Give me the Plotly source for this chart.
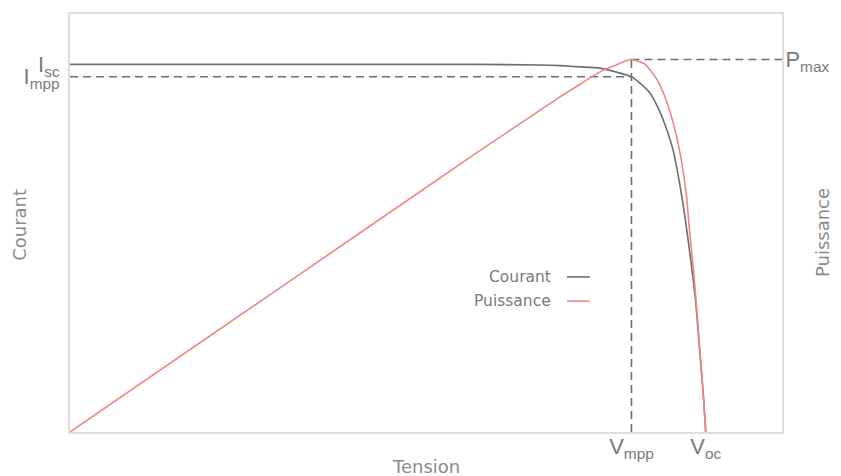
import plotly.graph_objects as go

# Courbe I-V (tension en V, courant en A)
TENSION_I = [0.000, 0.200, 0.400, 0.462, 0.482, 0.501, 0.521, 0.536, 0.552, 0.560,
             0.570, 0.578, 0.585, 0.593, 0.602, 0.609, 0.615, 0.619, 0.623, 0.625]
COURANT = [2.99, 2.99, 2.99, 2.985, 2.98, 2.97, 2.96, 2.93, 2.89, 2.84,
           2.76, 2.64, 2.50, 2.29, 1.89, 1.48, 1.07, 0.67, 0.26, 0.00]

# Courbe P-V (tension en V, puissance en W)
TENSION_P = [0.000, 0.200, 0.400, 0.482, 0.501, 0.521, 0.536, 0.546, 0.552, 0.565,
             0.575, 0.583, 0.590, 0.596, 0.601, 0.606, 0.609, 0.613, 0.617, 0.620,
             0.623, 0.625]
PUISSANCE = [0.000, 0.598, 1.196, 1.436, 1.488, 1.542, 1.570, 1.589, 1.595, 1.576,
             1.524, 1.456, 1.370, 1.272, 1.165, 1.015, 0.865, 0.694, 0.480, 0.308,
             0.137, 0.000]

# Points remarquables
ISC = 2.99
IMPP = 2.89
VMPP = 0.552
VOC = 0.625
PMAX = 1.595

X_MAX = 0.70
I_MAX = 3.4
P_MAX_AXIS = 1.79

GRIS = '#6e6e6e'
ROUGE = '#f08585'
TEXTE = '#7a7a7a'
DASH = '8px,5px'

fig = go.Figure()

# Lignes pointillées de repère
fig.add_trace(go.Scatter(x=[0, VMPP], y=[IMPP, IMPP], mode='lines',
                         line=dict(color=GRIS, width=1.6, dash=DASH), hoverinfo='skip'))
fig.add_trace(go.Scatter(x=[VMPP, VMPP], y=[0, PMAX], mode='lines', yaxis='y2',
                         line=dict(color=GRIS, width=1.6, dash=DASH), hoverinfo='skip'))
fig.add_trace(go.Scatter(x=[VMPP, X_MAX], y=[PMAX, PMAX], mode='lines', yaxis='y2',
                         line=dict(color=GRIS, width=1.6, dash=DASH), hoverinfo='skip'))

# Courbes
fig.add_trace(go.Scatter(x=TENSION_I, y=COURANT, mode='lines', name='Courant',
                         line=dict(color=GRIS, width=1.6, shape='spline', smoothing=0.5)))
fig.add_trace(go.Scatter(x=TENSION_P, y=PUISSANCE, mode='lines', name='Puissance', yaxis='y2',
                         line=dict(color=ROUGE, width=1.6, shape='spline', smoothing=0.5)))

tick_font = dict(family='Liberation Sans, Arial, sans-serif', size=22, color=TEXTE)
title_font = dict(family='DejaVu Sans, sans-serif', size=18, color='#8a8a8a')
frame = dict(showline=True, linecolor='#dedede', linewidth=2, showgrid=False,
             zeroline=False, ticks='', ticklen=0, automargin=False)

# la page ajoute ~8 px de marge autour de la figure
fig.update_layout(
    width=833, height=468,
    margin=dict(l=62, r=59, t=6, b=44),
    paper_bgcolor='white', plot_bgcolor='white',
    showlegend=False,
    xaxis=dict(range=[0, X_MAX], tickvals=[VMPP, VOC],
               ticktext=['V<sub>mpp</sub>', 'V<sub>oc</sub>'], tickfont=tick_font,
               ticklabelstandoff=-6, mirror=True, **frame),
    yaxis=dict(range=[0, I_MAX], tickvals=[ISC, IMPP],
               ticktext=['I<sub>sc</sub>', 'I<sub>mpp</sub>'], tickfont=tick_font,
               ticklabelstandoff=4, mirror=True, **frame),
    yaxis2=dict(range=[0, P_MAX_AXIS], overlaying='y', side='right',
                tickvals=[PMAX], ticktext=['P<sub>max</sub>'], tickfont=tick_font,
                ticklabelstandoff=-3, **frame),
)

# Titres des axes
fig.add_annotation(x=0.5, y=-0.083, xref='paper', yref='paper', text='Tension',
                   showarrow=False, xanchor='center', yanchor='middle', font=title_font)
fig.add_annotation(x=-0.072, y=0.495, xref='paper', yref='paper', text='Courant',
                   showarrow=False, textangle=-90, xanchor='center', yanchor='middle',
                   font=title_font)
fig.add_annotation(x=1.056, y=0.478, xref='paper', yref='paper', text='Puissance',
                   showarrow=False, textangle=-90, xanchor='center', yanchor='middle',
                   borderpad=0, font=title_font)

# Légende faite à la main (texte à gauche, trait à droite)
legend_items = [('Courant', GRIS, 0.371), ('Puissance', ROUGE, 0.313)]
for label, color, ypos in legend_items:
    fig.add_annotation(x=0.678, y=ypos, xref='paper', yref='paper', text=label,
                       showarrow=False, xanchor='right', yanchor='middle',
                       font=dict(family='DejaVu Sans, sans-serif', size=15.5, color=TEXTE))
    fig.add_shape(type='line', xref='paper', yref='paper', x0=0.698, x1=0.730,
                  y0=ypos, y1=ypos, line=dict(color=color, width=1.6))

fig.write_html('out.html')
